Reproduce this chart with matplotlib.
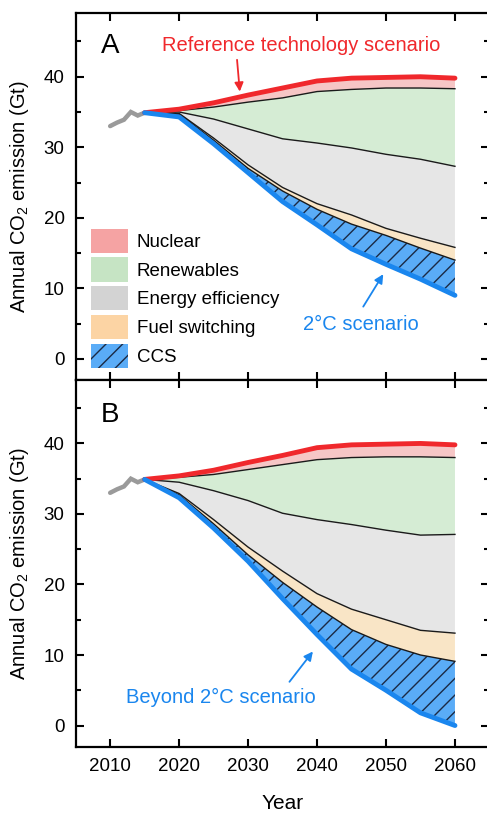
import matplotlib
matplotlib.use("Agg")
import matplotlib.pyplot as plt
from matplotlib.patches import Patch
from matplotlib.ticker import MultipleLocator

plt.rcParams['font.family'] = ['Liberation Sans', 'DejaVu Sans']
plt.rcParams['mathtext.fontset'] = 'custom'
plt.rcParams['mathtext.rm'] = 'Liberation Sans'
plt.rcParams['mathtext.default'] = 'regular'
plt.rcParams['hatch.linewidth'] = 1.0

# ---------------- data ----------------
hist_years = [2010, 2011, 2012, 2013, 2014, 2015]
hist_vals = [33.0, 33.5, 33.9, 35.0, 34.5, 34.9]

years = [2015, 2020, 2025, 2030, 2035, 2040, 2045, 2050, 2055, 2060]

# Panel A (2 degC scenario) – boundaries from top to bottom
ref_A = [34.9, 35.4, 36.3, 37.4, 38.4, 39.4, 39.8, 39.9, 40.0, 39.8]
nuc_A = [34.9, 35.2, 35.7, 36.4, 37.0, 37.9, 38.2, 38.4, 38.4, 38.3]
ren_A = [34.9, 35.0, 34.0, 32.6, 31.2, 30.6, 29.9, 29.0, 28.3, 27.3]
eff_A = [34.9, 34.8, 31.3, 27.5, 24.3, 22.0, 20.4, 18.5, 17.1, 15.8]
fuel_A = [34.9, 34.7, 31.0, 27.0, 23.8, 21.2, 19.1, 17.5, 15.7, 14.0]
ccs_A = [34.9, 34.3, 30.5, 26.4, 22.3, 19.0, 15.6, 13.4, 11.3, 9.0]

# Panel B (beyond 2 degC scenario)
ref_B = [34.9, 35.4, 36.2, 37.3, 38.3, 39.4, 39.8, 39.9, 40.0, 39.8]
nuc_B = [34.9, 35.2, 35.6, 36.3, 37.0, 37.7, 38.0, 38.1, 38.1, 38.0]
ren_B = [34.9, 34.5, 33.3, 31.9, 30.1, 29.2, 28.5, 27.7, 27.0, 27.1]
eff_B = [34.9, 32.9, 29.2, 25.3, 21.9, 18.7, 16.5, 15.0, 13.5, 13.1]
fuel_B = [34.9, 32.7, 28.6, 24.2, 20.3, 16.8, 13.6, 11.5, 10.0, 9.1]
ccs_B = [34.9, 32.3, 28.0, 23.3, 18.0, 12.9, 8.0, 5.0, 1.8, 0.0]

labels = ["Nuclear", "Renewables", "Energy efficiency", "Fuel switching", "CCS"]
area_colors = ["#f6c6c6", "#d5ecd4", "#e6e6e6", "#f9e5c6", "#5aacf7"]
legend_colors = ["#f5a3a3", "#c6e4c4", "#d3d3d3", "#fcd4a4", "#5aacf7"]

RED = "#f0282c"
BLUE = "#1a86ee"
HATCH_C = "#1b2a45"

fig = plt.figure(figsize=(4.87, 8.14), dpi=100)
axA = fig.add_axes([0.1554, 0.5332, 0.8496, 0.4505])
axB = fig.add_axes([0.1554, 0.0827, 0.8496, 0.4505])


def draw(ax, ref, nuc, ren, eff, fuel, ccs):
    bounds = [ref, nuc, ren, eff, fuel, ccs]
    for i in range(5):
        if i == 4:
            ax.fill_between(years, bounds[i], bounds[i + 1], facecolor=area_colors[i],
                            edgecolor=HATCH_C, hatch='//', linewidth=0, zorder=2)
        else:
            ax.fill_between(years, bounds[i], bounds[i + 1], facecolor=area_colors[i],
                            linewidth=0, zorder=2)
    for b in [nuc, ren, eff, fuel]:
        ax.plot(years, b, color="#1a1a1a", lw=1.0, zorder=3)
    ax.plot(hist_years, hist_vals, color="#9a9a9a", lw=3.2, zorder=4,
            solid_capstyle='round', solid_joinstyle='miter')
    ax.plot(years, ref, color=RED, lw=3.5, zorder=5, solid_capstyle='round')
    ax.plot(years, ccs, color=BLUE, lw=3.5, zorder=5, solid_capstyle='round')

    ax.set_xlim(2005, 2065)
    ax.set_ylim(-3, 49)
    ax.xaxis.set_major_locator(MultipleLocator(10))
    ax.yaxis.set_major_locator(MultipleLocator(10))
    ax.yaxis.set_minor_locator(MultipleLocator(5))
    ax.tick_params(which='both', direction='in', top=True, right=True,
                   width=1.5, labelsize=13.5, pad=8)
    ax.tick_params(which='major', length=6)
    ax.tick_params(which='minor', length=3.5)
    for s in ax.spines.values():
        s.set_linewidth(1.6)
    ax.spines['right'].set_visible(False)
    ax.set_ylabel("Annual CO$_2$ emission (Gt)", fontsize=14.5, labelpad=9)


draw(axA, ref_A, nuc_A, ren_A, eff_A, fuel_A, ccs_A)
draw(axB, ref_B, nuc_B, ren_B, eff_B, fuel_B, ccs_B)

axA.tick_params(axis='x', labelbottom=False)
axB.set_xlabel("Year", fontsize=15, labelpad=14)

axA.text(2010, 44.4, "A", fontsize=20, ha='center', va='center')
axB.text(2010, 44.1, "B", fontsize=20, ha='center', va='center')

axA.text(2037.7, 44.5, "Reference technology scenario", color=RED, fontsize=14.5,
         ha='center', va='center')
axA.annotate("", xy=(2028.8, 37.9), xytext=(2028.4, 42.4),
             arrowprops=dict(arrowstyle='-|>', color=RED, lw=1.3, mutation_scale=13,
                             shrinkA=0, shrinkB=0))
axA.text(2046.4, 4.8, "2°C scenario", color=BLUE, fontsize=14.5, ha='center', va='center')
axA.annotate("", xy=(2049.6, 12.0), xytext=(2046.7, 7.4),
             arrowprops=dict(arrowstyle='-|>', color=BLUE, lw=1.3, mutation_scale=13,
                             shrinkA=0, shrinkB=0))
axB.text(2026.1, 4.0, "Beyond 2°C scenario", color=BLUE, fontsize=14.5,
         ha='center', va='center')
axB.annotate("", xy=(2039.4, 10.5), xytext=(2036.0, 6.2),
             arrowprops=dict(arrowstyle='-|>', color=BLUE, lw=1.3, mutation_scale=13,
                             shrinkA=0, shrinkB=0))

handles = []
for i, lab in enumerate(labels):
    if lab == "CCS":
        handles.append(Patch(facecolor=legend_colors[i], edgecolor=HATCH_C, hatch='//',
                             linewidth=0, label=lab))
    else:
        handles.append(Patch(facecolor=legend_colors[i], linewidth=0, label=lab))
axA.legend(handles=handles, loc='lower left', bbox_to_anchor=(0.037, 0.033),
           frameon=False, fontsize=13.5, handlelength=2.0, handleheight=1.6,
           labelspacing=0.25, handletextpad=0.45, borderpad=0, borderaxespad=0)

fig.savefig("out.png", dpi=100)
